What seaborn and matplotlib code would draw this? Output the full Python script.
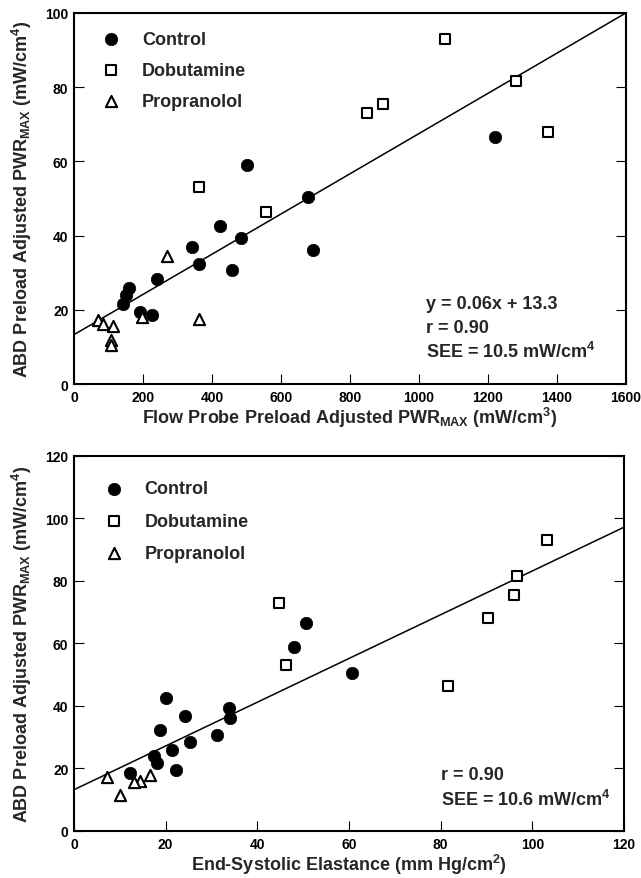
import matplotlib
matplotlib.use("Agg")
import matplotlib.pyplot as plt
import seaborn as sns
import numpy as np
import pandas as pd

# ABD preload adjusted PWRmax (mW/cm^4) - y in both panels
ctrl_abd = [66.6, 58.9, 50.5, 42.5, 39.4, 36.8, 36.2, 32.4, 30.8, 28.4, 25.9, 23.9, 21.6, 19.4, 18.6]
ctrl_flow = [1220, 502, 678, 423, 484, 342, 693, 362, 459, 240, 160, 150, 143, 190, 227]
ctrl_ees = [50.7, 47.9, 60.6, 20.1, 33.8, 24.2, 34.0, 18.7, 31.3, 25.3, 21.4, 17.4, 18.1, 22.3, 12.2]

dob_abd = [93.1, 81.7, 75.5, 73.0, 68.0, 53.2, 46.4]
dob_flow = [1075, 1281, 895, 849, 1375, 361, 558]
dob_ees = [103.3, 96.7, 96.0, 44.8, 90.4, 46.3, 81.6]

prop_abd_top = [34.5, 18.0, 17.5, 17.3, 16.3, 15.5, 11.8, 10.6]
prop_flow = [270, 196, 363, 70, 83, 113, 107, 107]
prop_abd_bot = [17.9, 17.2, 16.1, 15.6, 11.5]
prop_ees = [16.6, 7.2, 14.5, 13.2, 10.1]

# regression lines (slope, intercept)
fit_top = (0.0542, 13.3)
fit_bot = (0.70, 13.2)

sns.set_style("ticks")
plt.rcParams.update({
    'font.family': ['Liberation Sans', 'DejaVu Sans'],
    'font.weight': 'bold',
    'axes.labelweight': 'bold',
    'mathtext.fontset': 'custom',
    'mathtext.rm': 'Liberation Sans:bold',
    'mathtext.bf': 'Liberation Sans:bold',
    'mathtext.it': 'Liberation Sans:bold',
    'axes.linewidth': 1.5,
    'axes.edgecolor': 'black',
})

styles = {
    'Control': dict(marker='o', s=80, color='black', edgecolor='black', linewidth=0.5),
    'Dobutamine': dict(marker='s', s=55, color='white', edgecolor='black', linewidth=1.5),
    'Propranolol': dict(marker='^', s=65, color='white', edgecolor='black', linewidth=1.5),
}

top = pd.concat([
    pd.DataFrame({'x': ctrl_flow, 'y': ctrl_abd, 'group': 'Control'}),
    pd.DataFrame({'x': dob_flow, 'y': dob_abd, 'group': 'Dobutamine'}),
    pd.DataFrame({'x': prop_flow, 'y': prop_abd_top, 'group': 'Propranolol'}),
])
bot = pd.concat([
    pd.DataFrame({'x': ctrl_ees, 'y': ctrl_abd, 'group': 'Control'}),
    pd.DataFrame({'x': dob_ees, 'y': dob_abd, 'group': 'Dobutamine'}),
    pd.DataFrame({'x': prop_ees, 'y': prop_abd_bot, 'group': 'Propranolol'}),
])

fig = plt.figure(figsize=(6.41, 8.79), dpi=100)
ax1 = fig.add_axes([0.1154, 0.5620, 0.8612, 0.4221])
ax2 = fig.add_axes([0.1154, 0.0535, 0.8580, 0.4266])

ylab = 'ABD Preload Adjusted PWR$_{\\mathbf{MAX}}$ (mW/cm$^{\\mathbf{4}}$)'


def draw(ax, df, xmax, xstep, ymax, ystep, fit, xlabel, stats, text_x, text_y, leg_anchor, leg_space):
    xs = np.array([0, xmax])
    ax.plot(xs, fit[0] * xs + fit[1], color='black', lw=1.1, zorder=1)
    for g in ['Control', 'Dobutamine', 'Propranolol']:
        sub = df[df['group'] == g]
        sns.scatterplot(data=sub, x='x', y='y', ax=ax, label=g, zorder=3, **styles[g])
    ax.set_xlim(0, xmax)
    ax.set_ylim(0, ymax)
    ax.set_xticks(np.arange(0, xmax + 1, xstep))
    ax.set_yticks(np.arange(0, ymax + 1, ystep))
    ax.tick_params(direction='in', length=7, width=0.8, right=True, top=False,
                   labelsize=10, colors='black')
    ax.tick_params(axis='x', pad=4)
    ax.tick_params(axis='y', pad=4)
    for lab in ax.get_xticklabels() + ax.get_yticklabels():
        lab.set_fontweight('bold')
    ax.set_xlabel(xlabel, fontsize=13, fontweight='bold', labelpad=1)
    ax.set_ylabel(ylab, fontsize=13, fontweight='bold', labelpad=8)
    for i, s in enumerate(stats):
        ax.text(text_x, text_y - i * 0.065, s, transform=ax.transAxes,
                fontsize=13, fontweight='bold', ha='left', va='center')
    ax.legend(loc='upper left', bbox_to_anchor=leg_anchor, frameon=False,
              prop={'size': 13, 'weight': 'bold'}, labelspacing=leg_space,
              handletextpad=1.2, borderaxespad=0, handlelength=1.0)


draw(ax1, top, 1600, 200, 100, 20, fit_top,
     'Flow Probe Preload Adjusted PWR$_{\\mathbf{MAX}}$ (mW/cm$^{\\mathbf{3}}$)',
     ['y = 0.06x + 13.3', 'r = 0.90', 'SEE = 10.5 mW/cm$^{\\mathbf{4}}$'],
     0.638, 0.218, (0.038, 0.971), 0.77)
draw(ax2, bot, 120, 20, 120, 20, fit_bot,
     'End-Systolic Elastance (mm Hg/cm$^{\\mathbf{2}}$)',
     ['r = 0.90', 'SEE = 10.6 mW/cm$^{\\mathbf{4}}$'],
     0.667, 0.150, (0.043, 0.954), 0.85)

fig.savefig('out.png', dpi=100)
